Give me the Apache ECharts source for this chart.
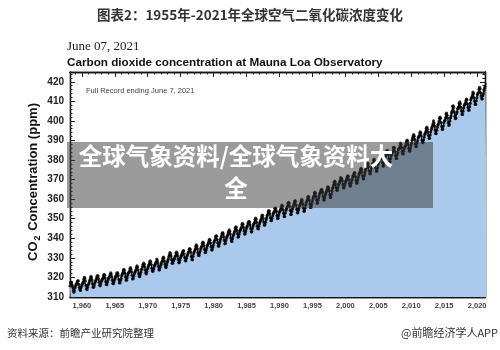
<!DOCTYPE html>
<html>
<head>
<meta charset="utf-8">
<script src="https://cdn.jsdelivr.net/npm/echarts@6/dist/echarts.min.js"></script>
<style>html,body{margin:0;padding:0;background:#fff}#c{width:500px;height:350px}</style>
</head>
<body>
<div id="c"></div>
<script>
// Monthly CO2 (ppm), Mauna Loa, read/estimated from the chart; one row per year (Jan..Dec)
const co2_1958_1969 = [
  [null,null,315.7,317.5,317.5,317.1,315.9,314.9,313.2,312.4,313.3,314.7],
  [315.6,316.5,316.7,317.7,318.3,318.2,316.5,314.8,313.8,313.3,314.8,315.6],
  [316.4,317.0,317.6,319.0,320.0,319.6,318.2,315.9,314.2,313.8,315.0,316.2],
  [316.9,317.7,318.5,319.5,320.6,319.8,318.7,316.7,315.0,315.0,316.0,317.1],
  [317.9,318.5,319.4,320.4,321.0,320.7,319.3,317.6,316.0,315.7,316.8,318.0],
  [318.7,319.1,319.8,321.0,321.6,321.1,319.7,317.9,316.4,316.3,317.5,318.7],
  [319.4,320.0,320.4,321.5,322.4,321.7,320.4,318.5,316.9,316.8,317.9,318.9],
  [319.6,320.5,320.8,322.0,322.5,322.0,321.0,318.9,317.3,317.2,318.5,319.5],
  [320.9,321.7,322.3,323.6,324.1,323.5,322.2,320.3,318.7,318.6,319.9,321.2],
  [322.1,322.5,323.0,324.4,325.0,324.1,322.9,321.0,319.2,319.4,320.6,321.9],
  [322.6,323.3,323.9,325.2,325.9,325.3,323.9,322.0,320.6,320.3,321.5,322.7],
  [324.0,324.4,325.6,326.7,327.3,326.8,325.6,323.8,322.3,321.8,323.0,324.3]
];
const co2_1970s = [
  [325.0,326.0,326.7,327.9,328.5,327.9,326.6,324.7,323.3,323.1,324.2,325.3],
  [326.2,326.6,327.4,327.8,329.4,328.6,327.4,325.6,323.9,323.9,325.1,326.2],
  [326.9,327.8,328.4,329.7,330.4,329.9,328.4,326.7,325.3,325.1,326.3,327.7],
  [328.7,329.5,330.7,331.7,332.7,332.2,331.0,329.1,327.3,327.3,328.3,329.5],
  [329.4,330.4,331.0,332.5,333.0,332.4,331.1,329.2,327.6,327.6,328.6,329.9],
  [330.6,331.4,332.0,333.0,333.6,333.6,332.0,330.2,328.6,328.4,329.7,330.9],
  [331.6,332.6,333.1,334.3,334.8,334.3,332.9,330.7,329.2,329.0,330.7,332.0],
  [333.0,333.6,334.5,336.0,336.6,336.0,334.6,332.6,331.2,331.3,332.5,333.6],
  [334.7,335.3,336.1,337.4,338.0,337.6,336.3,334.3,332.7,332.8,334.0,335.1],
  [336.2,336.9,337.7,338.6,339.5,339.0,337.6,335.7,334.0,334.2,335.4,336.5]
];
const co2_1980s = [
  [337.9,338.5,339.4,340.7,341.2,341.1,339.4,337.7,336.1,336.0,337.2,338.4],
  [339.5,340.4,341.4,342.4,342.9,342.3,340.9,338.9,337.2,337.5,338.9,340.1],
  [340.9,341.6,342.7,343.6,344.3,343.6,342.2,340.1,338.6,338.4,339.8,341.2],
  [342.0,342.8,343.7,345.2,345.9,345.5,344.1,342.3,340.6,340.8,342.1,343.4],
  [344.2,344.8,345.5,346.9,347.6,347.0,345.6,343.8,342.2,342.2,343.5,344.9],
  [345.8,346.3,347.4,348.2,348.7,348.1,346.8,345.0,343.3,343.3,344.7,345.9],
  [346.9,347.5,348.0,349.6,350.3,349.7,348.2,346.2,345.0,344.8,346.2,347.5],
  [348.4,348.9,349.8,351.1,351.9,351.6,350.2,348.3,346.7,346.9,348.1,349.4],
  [350.4,351.6,352.2,353.6,354.2,353.8,352.5,350.5,349.0,349.1,350.2,351.5],
  [352.6,353.1,353.6,355.3,355.5,355.0,353.8,351.6,350.1,350.3,351.7,353.0]
];
const co2_1990s = [
  [353.7,354.4,355.1,356.3,357.0,356.4,354.7,352.7,351.1,351.1,352.8,354.1],
  [354.9,355.6,356.5,357.9,358.4,357.9,356.4,354.2,352.2,352.2,353.7,354.9],
  [355.9,356.7,357.6,358.7,359.3,358.8,357.0,354.9,353.1,353.0,354.3,355.5],
  [356.6,357.1,358.0,359.1,359.9,359.3,357.7,355.5,353.8,354.0,355.4,356.9],
  [358.2,358.9,359.7,361.0,361.5,360.9,359.5,357.5,355.8,355.9,357.3,358.6],
  [359.8,360.9,361.6,363.1,363.6,363.0,361.5,359.6,357.9,358.0,359.5,360.7],
  [362.1,363.0,363.6,364.4,365.0,364.6,363.5,361.4,359.6,359.6,360.9,362.3],
  [363.1,363.9,364.6,366.0,366.3,365.6,364.4,362.4,360.9,360.9,362.4,364.0],
  [365.4,366.1,367.3,368.6,369.3,368.9,367.6,365.8,364.5,364.5,365.8,367.2],
  [368.1,368.9,369.4,371.0,370.7,370.3,369.4,367.5,365.8,365.8,366.9,368.2]
];
const co2_2000s = [
  [369.1,369.6,370.5,371.6,371.9,371.6,370.0,368.0,366.7,366.8,368.2,369.5],
  [370.4,371.5,372.1,372.9,373.6,373.3,371.5,369.6,368.2,368.3,369.7,371.1],
  [372.4,373.2,373.9,375.0,375.7,375.3,374.0,371.8,370.4,370.5,372.1,373.4],
  [374.7,375.6,376.1,377.6,378.3,378.0,376.6,374.5,373.0,373.0,374.4,375.9],
  [377.0,377.9,378.5,380.0,380.5,379.6,377.9,375.9,374.3,374.4,375.9,377.5],
  [378.5,379.2,380.4,382.2,382.5,382.1,380.7,378.7,376.9,377.0,378.4,379.9],
  [381.4,382.2,382.7,384.6,385.0,384.3,382.6,380.7,379.1,379.2,380.8,382.3],
  [382.9,383.9,384.5,386.4,386.5,386.1,384.5,382.3,380.8,380.8,382.6,383.8],
  [385.4,385.7,385.9,387.2,388.6,387.9,386.4,384.2,383.2,383.1,384.5,386.0],
  [386.9,387.4,388.5,389.5,390.2,389.5,388.0,386.0,384.7,384.5,385.8,387.3]
];
const co2_2010s = [
  [388.5,390.2,391.3,392.3,393.0,392.2,390.4,388.2,386.8,387.0,388.6,389.8],
  [391.3,391.9,392.4,393.8,394.4,393.8,392.4,390.2,389.0,388.9,390.2,391.7],
  [393.1,393.6,394.5,396.2,396.8,395.8,394.3,392.5,391.0,391.2,392.8,394.3],
  [395.6,396.5,397.3,398.4,400.0,398.9,397.4,395.3,393.6,393.5,395.2,396.8],
  [397.9,398.4,399.7,401.4,401.9,401.3,399.2,397.2,395.6,395.9,397.4,399.0],
  [399.9,400.3,401.6,403.5,404.0,402.9,401.5,399.0,397.7,398.2,400.0,401.6],
  [402.6,404.1,404.9,407.5,407.7,406.8,404.6,402.3,401.1,401.5,403.6,404.6],
  [406.2,406.4,407.2,409.0,409.7,408.8,407.0,405.1,403.3,403.3,405.0,406.6],
  [407.9,408.4,409.0,410.2,411.2,410.8,408.7,406.9,405.4,405.6,407.3,409.0],
  [410.8,411.8,412.0,413.3,414.7,413.9,411.8,410.0,408.5,408.5,410.3,411.8]
];
const co2_2020s = [
  [413.4,414.1,414.5,416.2,417.1,416.4,414.4,412.5,411.3,411.3,412.9,414.0],
  [415.5,416.7,417.6,419.1,419.1,418.9,null,null,null,null,null,null]
];
const blocks = [[1958, co2_1958_1969],[1970, co2_1970s],[1980, co2_1980s],[1990, co2_1990s],[2000, co2_2000s],[2010, co2_2010s],[2020, co2_2020s]];

const xLabelYears = [1960,1965,1970,1975,1980,1985,1990,1995,2000,2005,2010,2015,2020];
const xMinorYears = [1959,1960,1961,1962,1963,1964,1965,1966,1967,1968,1969,1970,1971,1972,1973,1974,1975,1976,1977,1978,1979,1980,1981,1982,1983,1984,1985,1986,1987,1988,1989,1990,1991,1992,1993,1994,1995,1996,1997,1998,1999,2000,2001,2002,2003,2004,2005,2006,2007,2008,2009,2010,2011,2012,2013,2014,2015,2016,2017,2018,2019,2020,2021];
const yLabels = [310,320,330,340,350,360,370,380,390,400,410,420];
const yMinor = [312,314,316,318,322,324,326,328,332,334,336,338,342,344,346,348,352,354,356,358,362,364,366,368,372,374,376,378,382,384,386,388,392,394,396,398,402,404,406,408,412,414,416,418,422,424];

const points = [];
blocks.forEach(([start, rows]) => {
  rows.forEach((row, i) => {
    row.forEach((v, m) => {
      if (v !== null) points.push([start + i + (m + 0.5) / 12, v]);
    });
  });
});

const XMIN = 1958.2, XMAX = 2021.2, YMIN = 310, YMAX = 425;
const frameLine = {show: true, lineStyle: {color: '#111', width: 1.3}};
function xAx(pos, ticks, len, labels) {
  return {
    type: 'value', position: pos, min: XMIN, max: XMAX,
    axisLine: frameLine, splitLine: {show: false},
    axisTick: {show: true, inside: true, length: len, customValues: ticks, lineStyle: {color: '#222', width: 1}},
    axisLabel: labels ? {show: true, customValues: labels, margin: 5, color: '#444', fontSize: 7.5, fontWeight: 'bold', fontFamily: 'Liberation Sans'} : {show: false}
  };
}
function yAx(pos, ticks, len, labels) {
  return {
    type: 'value', position: pos, min: YMIN, max: YMAX,
    axisLine: frameLine, splitLine: {show: false},
    axisTick: {show: true, inside: true, length: len, customValues: ticks, lineStyle: {color: '#222', width: 1}},
    axisLabel: labels ? {show: true, customValues: labels, margin: 6, color: '#222', fontSize: 10, fontWeight: 'bold', fontFamily: 'Liberation Sans'} : {show: false}
  };
}

const chart = echarts.init(document.getElementById('c'), null, {renderer: 'canvas'});
chart.setOption({
  animation: false,
  backgroundColor: '#fff',
  grid: {left: 70, right: 15, top: 72, bottom: 53, containLabel: false},
  xAxis: [
    xAx('bottom', xLabelYears, 5, xLabelYears),
    xAx('bottom', xMinorYears, 2.5, null),
    xAx('top', xLabelYears, 5, null),
    xAx('top', xMinorYears, 2.5, null)
  ],
  yAxis: [
    yAx('left', yLabels, 5, yLabels),
    yAx('left', yMinor, 2.5, null),
    yAx('right', yLabels, 5, null),
    yAx('right', yMinor, 2.5, null)
  ],
  series: [
    {
      type: 'line', data: points, xAxisIndex: 0, yAxisIndex: 0,
      showSymbol: false, smooth: false,
      lineStyle: {color: '#111', width: 1.3},
      areaStyle: {color: '#abc9ea', opacity: 1, origin: 'start'},
      z: 2
    },
    {
      type: 'scatter', data: points, xAxisIndex: 0, yAxisIndex: 0,
      symbol: 'circle', symbolSize: 3.2,
      itemStyle: {color: '#000'}, z: 3
    }
  ],
  graphic: [
    {type: 'text', left: 'center', top: 8, style: {text: '图表2：1955年-2021年全球空气二氧化碳浓度变化', font: 'bold 13.5px "Noto Sans CJK SC"', fill: '#333'}},
    {type: 'text', x: 67, y: 47, style: {text: 'June 07, 2021', font: '13px "Liberation Serif"', fill: '#222', verticalAlign: 'middle'}},
    {type: 'text', x: 67, y: 63, style: {text: 'Carbon dioxide concentration at Mauna Loa Observatory', font: 'bold 11.7px "Liberation Sans"', fill: '#111', verticalAlign: 'middle'}},
    {type: 'text', x: 86, y: 91, z: 10, style: {text: 'Full Record ending June 7, 2021', font: '7.5px "Liberation Sans"', fill: '#444', verticalAlign: 'middle'}},
    {type: 'text', x: 33, y: 182, rotation: Math.PI / 2, style: {
      text: '{a|CO}{b|2}{a| Concentration (ppm)}', align: 'center', verticalAlign: 'middle',
      rich: {a: {font: 'bold 13px "Liberation Sans"', fill: '#111', lineHeight: 18, verticalAlign: 'middle'},
             b: {font: 'bold 9px "Liberation Sans"', fill: '#111', lineHeight: 18, verticalAlign: 'bottom', padding: [0, 1, 0, 1]}}
    }},
    {type: 'rect', shape: {x: 67, y: 142, width: 366, height: 66}, z: 20, style: {fill: 'rgba(55,55,55,0.5)'}},
    {type: 'text', x: 236, y: 156, z: 21, style: {text: '全球气象资料/全球气象资料大', font: 'bold 23.5px "Noto Sans CJK SC"', fill: '#fff', align: 'center', verticalAlign: 'middle'}},
    {type: 'text', x: 236, y: 188, z: 21, style: {text: '全', font: 'bold 23.5px "Noto Sans CJK SC"', fill: '#fff', align: 'center', verticalAlign: 'middle'}},
    {type: 'text', x: 7, y: 333, style: {text: '资料来源：前瞻产业研究院整理', font: '10.5px "Noto Sans CJK SC"', fill: '#333', verticalAlign: 'middle'}},
    {type: 'text', x: 498, y: 333, style: {text: '@前瞻经济学人APP', font: '11px "Noto Sans CJK SC"', fill: '#333', align: 'right', verticalAlign: 'middle'}}
  ]
});
</script>
</body>
</html>
